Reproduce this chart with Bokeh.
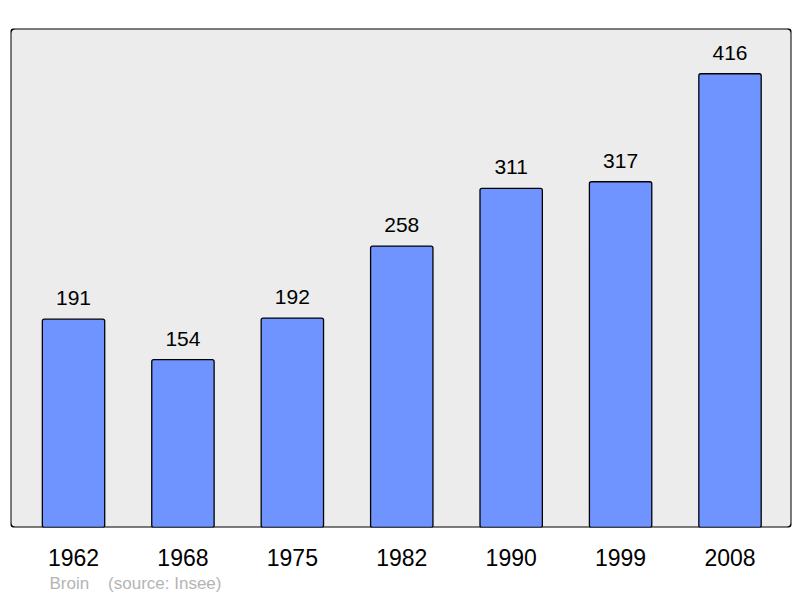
from bokeh.plotting import figure
from bokeh.models import ColumnDataSource, BoxAnnotation, FixedTicker, Range1d, Title
from bokeh.embed import file_html
from bokeh.resources import INLINE

years = ["1962", "1968", "1975", "1982", "1990", "1999", "2008"]
population = [191, 154, 192, 258, 311, 317, 416]
footer_name = "Broin"
footer_source = "(source: Insee)"

xs = list(range(len(years)))
src = ColumnDataSource(dict(x=xs, top=population, label=[str(v) for v in population]))

p = figure(width=800, height=598, output_backend="svg", toolbar_location=None,
           x_range=Range1d(-0.576, 6.562), y_range=Range1d(0, 457.5),
           min_border_left=10, min_border_right=9, min_border_top=28, min_border_bottom=71)
p.background_fill_color = "white"
p.border_fill_color = "white"
p.outline_line_color = None
p.grid.visible = False
p.yaxis.visible = False

bg = BoxAnnotation(fill_color="#ececec", fill_alpha=1, line_color="black", line_alpha=1,
                   line_width=2, border_radius=5, level="underlay")
p.add_layout(bg)

p.vbar(x="x", top="top", width=0.57, bottom=0, source=src, fill_color="#7094ff",
       line_color="black", line_width=1.3, border_radius=2)
p.text(x="x", y="top", text="label", source=src, text_align="center", text_baseline="bottom",
       y_offset=-14, text_font_size="21px", text_font={"value": "Liberation Sans"}, text_color="black")

ax = p.xaxis[0]
ax.ticker = FixedTicker(ticks=xs)
ax.major_label_overrides = {i: y for i, y in enumerate(years)}
ax.axis_line_color = None
ax.major_tick_line_color = None
ax.minor_tick_line_color = None
ax.major_label_text_font = "Liberation Sans"
ax.major_label_text_font_size = "23px"
ax.major_label_text_color = "black"
ax.major_label_standoff = 15

footer = Title(text=footer_name + "\u00a0" * 4 + footer_source, align="left", offset=39,
               text_font="Liberation Sans", text_font_size="17px", text_font_style="normal",
               text_color="#b4b4b4", standoff=6)
p.add_layout(footer, "below")

open("out.html", "w").write(file_html(p, INLINE))
